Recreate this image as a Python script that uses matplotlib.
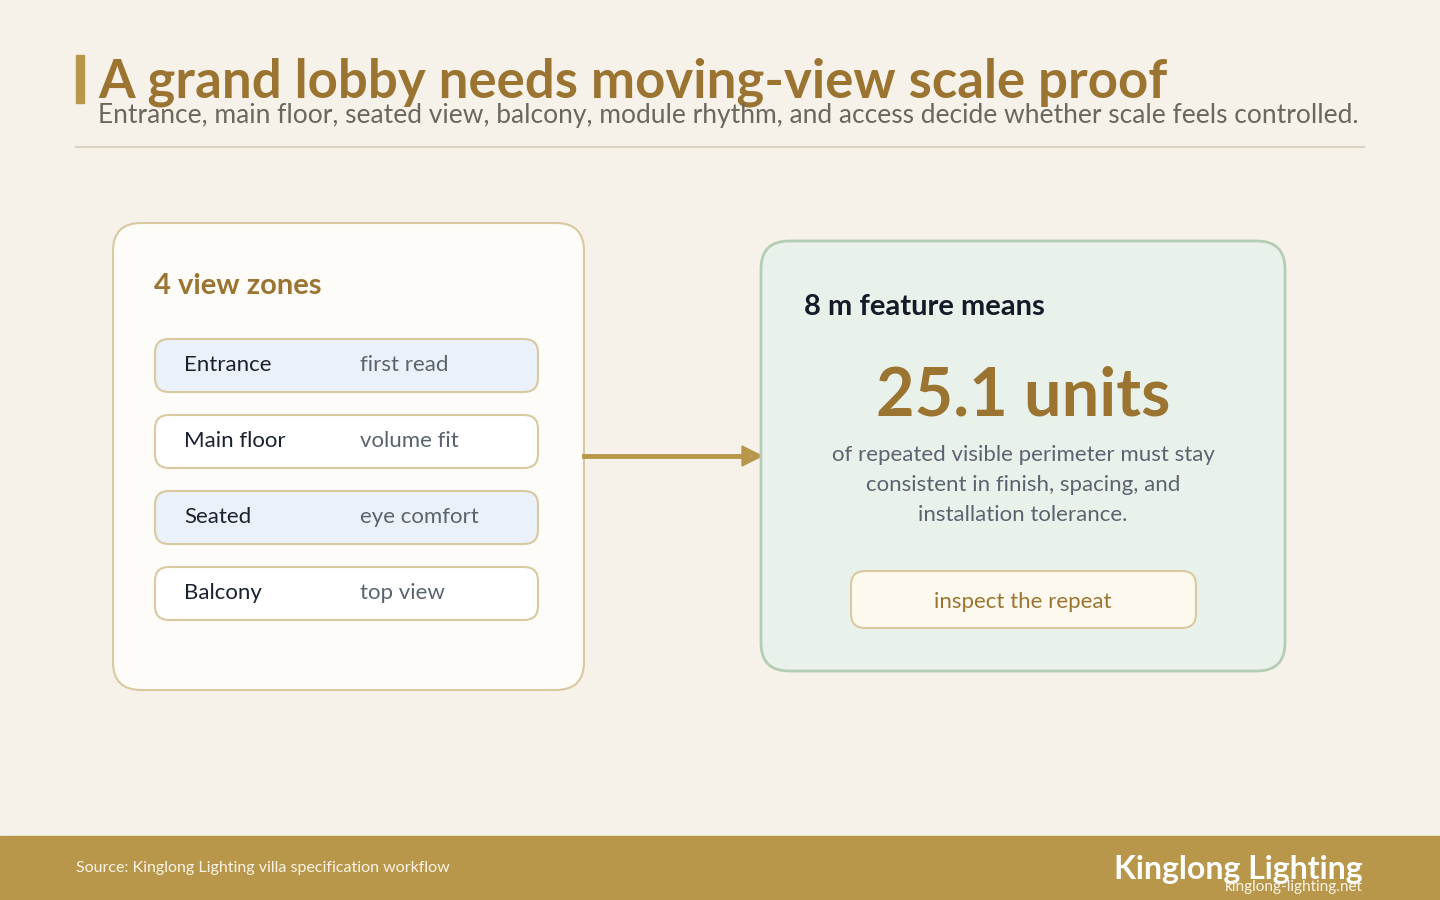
import matplotlib
matplotlib.use("Agg")
import matplotlib.pyplot as plt
from matplotlib.patches import FancyBboxPatch, Rectangle, FancyArrow

plt.rcParams['font.family'] = ['Lato', 'DejaVu Sans']

title = "A grand lobby needs moving-view scale proof"
subtitle = "Entrance, main floor, seated view, balcony, module rhythm, and access decide whether scale feels controlled."
zones = ["Entrance", "Main floor", "Seated", "Balcony"]
zone_notes = ["first read", "volume fit", "eye comfort", "top view"]
feature_m = 8
units = 25.1
source = "Source: Kinglong Lighting villa specification workflow"

GOLD = "#9A7430"
fig = plt.figure(figsize=(14.4, 9), dpi=100, facecolor="#F6F2EA")
ax = fig.add_axes([0, 0, 1, 1])
ax.set_xlim(0, 1440); ax.set_ylim(900, 0); ax.axis("off")

ax.add_patch(Rectangle((76, 55), 8, 48, color="#B8974B"))
ax.text(98, 82, title, fontsize=38, fontweight="bold", color=GOLD, va="center")
ax.text(98, 116, subtitle, fontsize=19, color="#6B665E", va="center")
ax.plot([76, 1364], [147, 147], color="#DDD3C2", lw=1.5)

# left card
ax.add_patch(FancyBboxPatch((113, 223), 471, 467, boxstyle="round,pad=0,rounding_size=28",
                            fc="#FEFCF8", ec="#D9C9A0", lw=1.5))
ax.text(154, 286, f"{len(zones)} view zones", fontsize=21, fontweight="bold", color=GOLD, va="center")
for i, (z, n) in enumerate(zip(zones, zone_notes)):
    y = 339 + i * 76
    ax.add_patch(FancyBboxPatch((155, y), 383, 53, boxstyle="round,pad=0,rounding_size=14",
                                fc="#EAF1F8" if i % 2 == 0 else "#FFFFFF", ec="#D9C9A0", lw=1.5))
    ax.text(184, y + 26, z, fontsize=16, color="#1A2130", va="center")
    ax.text(360, y + 26, n, fontsize=16, color="#5A6470", va="center")

# arrow
ax.plot([584, 745], [456, 456], color="#B8974B", lw=3.5)
ax.add_patch(plt.Polygon([[742, 446], [762, 456], [742, 466]], color="#B8974B"))

# right card
ax.add_patch(FancyBboxPatch((761, 241), 524, 430, boxstyle="round,pad=0,rounding_size=28",
                            fc="#E9F2EA", ec="#B5CCB5", lw=2))
ax.text(804, 307, f"{feature_m} m feature means", fontsize=21, fontweight="bold", color="#141A28", va="center")
ax.text(1023, 396, f"{units} units", fontsize=48, fontweight="bold", color=GOLD, va="center", ha="center")
for j, line in enumerate(["of repeated visible perimeter must stay",
                          "consistent in finish, spacing, and",
                          "installation tolerance."]):
    ax.text(1023, 455 + j * 30, line, fontsize=16, color="#5A6470", va="center", ha="center")
ax.add_patch(FancyBboxPatch((851, 571), 345, 57, boxstyle="round,pad=0,rounding_size=14",
                            fc="#FEF9EE", ec="#D9C9A0", lw=1.5))
ax.text(1023, 602, "inspect the repeat", fontsize=16, color=GOLD, va="center", ha="center")

# footer
ax.add_patch(Rectangle((0, 836), 1440, 64, color="#B8974B"))
ax.text(76, 868, source, fontsize=11.5, color="#FBF4E6", va="center")
ax.text(1363, 869, "Kinglong Lighting", fontsize=23, fontweight="bold", color="white", va="center", ha="right")
ax.text(1363, 887, "kinglong-lighting.net", fontsize=11, color="#FBF4E6", va="center", ha="right")

fig.savefig("out.png", dpi=100, facecolor=fig.get_facecolor())
